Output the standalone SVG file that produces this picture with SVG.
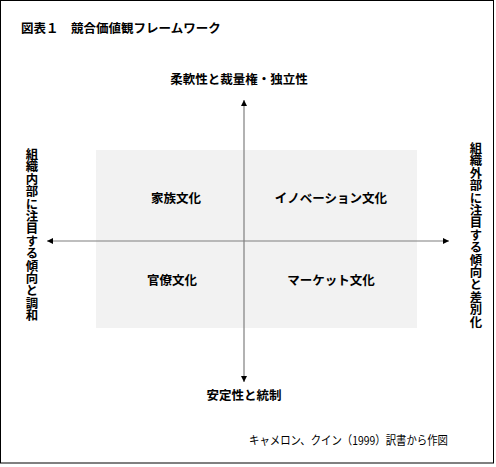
<svg xmlns="http://www.w3.org/2000/svg" width="496" height="467" viewBox="0 0 496 467">
<defs>
<marker id="ah" viewBox="0 0 10 10" refX="10" refY="5" markerWidth="6" markerHeight="6" markerUnits="userSpaceOnUse" orient="auto">
<path d="M0,0 L10,5 L0,10 Z" fill="#000"/>
</marker>
</defs>
<style>
text{font-family:"Noto Sans CJK JP","Noto Sans",sans-serif;fill:#000}
.b{font-weight:bold;font-size:12.5px}
.q{font-weight:bold;font-size:12.5px;text-anchor:middle}
.v{font-weight:bold;font-size:12.4px;writing-mode:vertical-rl;text-anchor:middle}
.ax{stroke:#7f7f7f;stroke-width:1.2;fill:none;marker-end:url(#ah)}
</style>
<rect x="0.5" y="0.5" width="493" height="462.5" fill="#fff" stroke="#000" stroke-width="1"/>
<text class="b" x="21" y="33">図表１　競合価値観フレームワーク</text>
<rect id="area" x="96" y="150" width="321" height="178" fill="#f2f2f2"/>
<g id="connectors">
<line class="ax" x1="244" y1="241" x2="244" y2="100"/>
<line class="ax" x1="244" y1="241" x2="244" y2="382"/>
<line class="ax" x1="244" y1="241" x2="47" y2="241"/>
<line class="ax" x1="244" y1="241" x2="449" y2="241"/>
</g>
<g id="label-top"><text class="q" x="239" y="84">柔軟性と裁量権・独立性</text></g>
<g id="label-bottom"><text class="q" x="244" y="400">安定性と統制</text></g>
<g id="label-left"><text class="v" x="32" y="235">組織内部に注目する傾向と調和</text></g>
<g id="label-right"><text class="v" x="476" y="235">組織外部に注目する傾向と差別化</text></g>
<g id="clan"><text class="q" x="176" y="203">家族文化</text></g>
<g id="adhocracy"><text class="q" x="331" y="203">イノベーション文化</text></g>
<g id="hierarchy"><text class="q" x="172" y="285">官僚文化</text></g>
<g id="market"><text class="q" x="331" y="285">マーケット文化</text></g>
<text x="249" y="445" font-size="12" textLength="199" lengthAdjust="spacingAndGlyphs">キャメロン、クイン（1999）訳書から作図</text>
</svg>
